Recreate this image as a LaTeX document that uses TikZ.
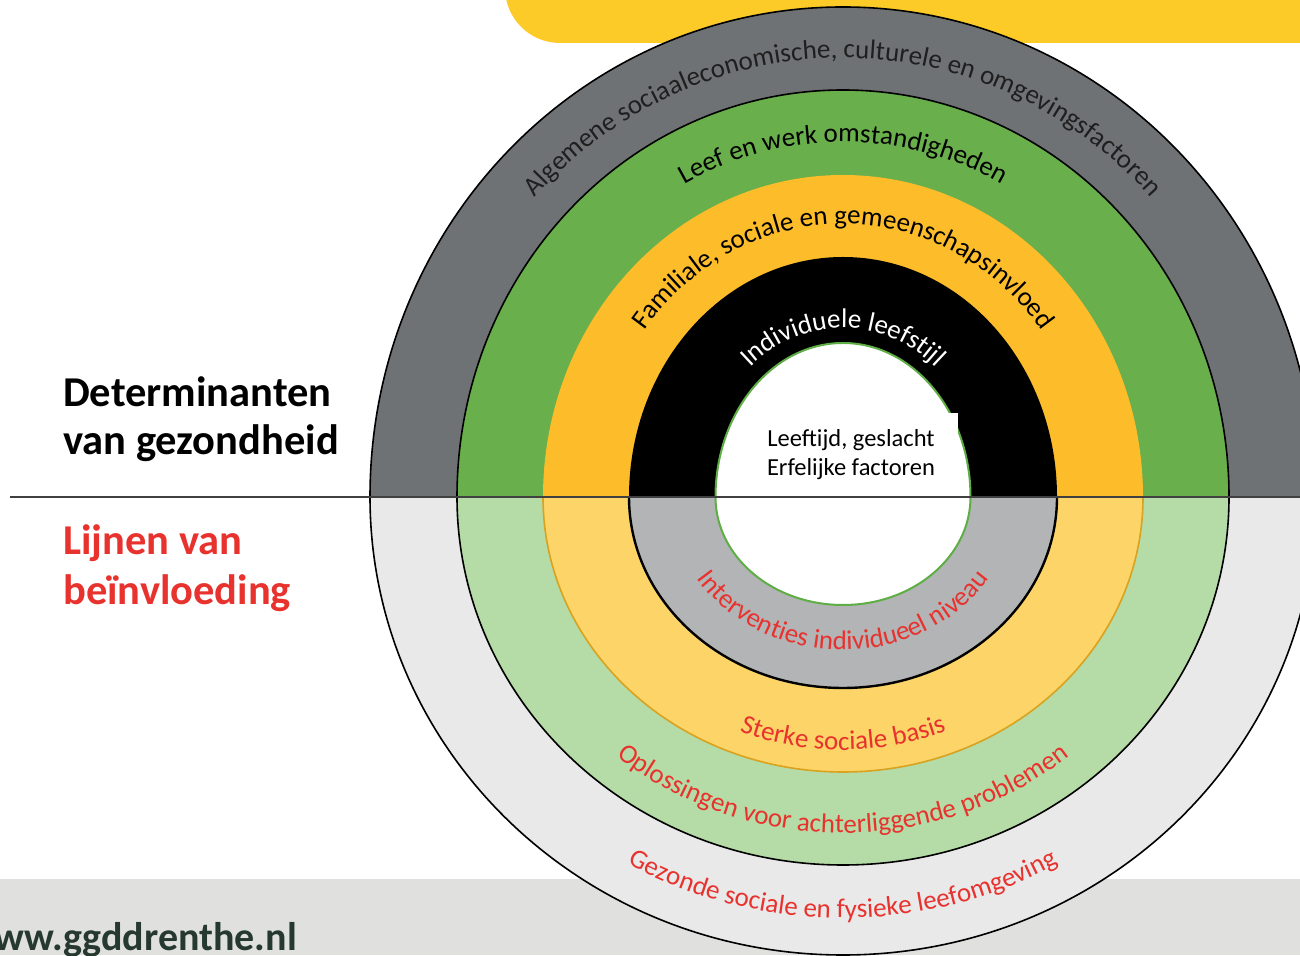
\documentclass[tikz,border=0pt]{standalone}
\usepackage{fontspec}
\setmainfont{Carlito}
\usetikzlibrary{decorations.text, positioning, calc}

\definecolor{ringgray}{HTML}{6F7274}
\definecolor{ringgreen}{HTML}{69AF4B}
\definecolor{ringorange}{HTML}{FDBD2A}
\definecolor{palegray}{HTML}{E9E9E9}
\definecolor{palegreen}{HTML}{B5DBA6}
\definecolor{paleyellow}{HTML}{FCD468}
\definecolor{midgray}{HTML}{B2B4B5}
\definecolor{rimgreen}{HTML}{5FAE45}
\definecolor{rimyellow}{HTML}{D9A21F}
\definecolor{linered}{HTML}{E8322E}
\definecolor{baryellow}{HTML}{FCCB28}
\definecolor{bandgray}{HTML}{E0E0DF}
\definecolor{urlgreen}{HTML}{26392F}

\newcommand{\arcfont}{\fontsize{27}{27}\selectfont}

\begin{document}
\begin{tikzpicture}[
    x=1pt, y=1pt,
    title/.style = {anchor=base west, inner sep=0pt, font=\fontsize{42.5}{42.5}\selectfont\bfseries},
    ringtext/.style = {decorate, decoration={text along path, text align=center}},
    rim/.style = {line width=1.6pt}
]
    % 1. Canvas, footer band and top bar
    \useasboundingbox (0,0) rectangle (1300,955);
    \clip (0,0) rectangle (1300,955);
    \fill[bandgray] (0,0) rectangle (1300,76);
    \fill[baryellow, rounded corners=55pt] (505,1100) rectangle (1400,912);

    \coordinate (c) at (843,458);

    % 2. Lower half: lijnen van beinvloeding
    \filldraw[palegray, draw=black, rim] (c) ++(-473pt,0) arc[start angle=180, end angle=360, x radius=473pt, y radius=458pt];
    \filldraw[palegreen, draw=black, rim] (c) ++(-386pt,0) arc[start angle=180, end angle=360, x radius=386pt, y radius=368pt];
    \filldraw[paleyellow, draw=rimyellow, rim] (c) ++(-300pt,0) arc[start angle=180, end angle=360, x radius=300pt, y radius=275pt];
    \filldraw[midgray, draw=black, line width=2.4pt] (c) ++(-214pt,0) arc[start angle=180, end angle=360, x radius=214pt, y radius=191pt];
    \filldraw[white, draw=rimgreen, line width=2pt] (c) ++(-127.5pt,0) arc[start angle=180, end angle=360, x radius=127.5pt, y radius=108pt];

    % 3. Upper half: determinanten
    \filldraw[ringgray, draw=black, rim] (c) ++(-473pt,0) arc[start angle=180, end angle=0, x radius=473pt, y radius=490pt];
    \filldraw[ringgreen, draw=black, rim] (c) ++(-386pt,0) arc[start angle=180, end angle=0, x radius=386pt, y radius=407pt];
    \fill[ringorange] (c) ++(-300pt,0) arc[start angle=180, end angle=0, x radius=300pt, y radius=322pt];
    \fill[black] (c) ++(-214pt,0) arc[start angle=180, end angle=0, x radius=214pt, y radius=240pt];
    \filldraw[white, draw=rimgreen, line width=2pt] (c) ++(-127.5pt,0) arc[start angle=180, end angle=0, x radius=127.5pt, y radius=154pt];

    % 4. Core text box
    \node[fill=white, minimum width=214pt, minimum height=83pt, align=center,
          font=\fontsize{24.5}{29}\selectfont, text=black] (core) at (851,500.5)
          {Leeftijd, geslacht\\Erfelijke factoren};

    % 5. Divider
    \coordinate (divL) at (10,458);
    \coordinate (divR) at (1300,458);
    \draw[black!75, line width=2pt] (divL) -- (divR);

    % 6. Ring labels, upper half
    \path[ringtext, decoration={text={|\arcfont\color{black!88}|Algemene sociaaleconomische, culturele en omgevingsfactoren}}]
        (c) ++(-421pt,0) arc[start angle=180, end angle=0, x radius=421pt, y radius=439pt];
    \path[ringtext, decoration={text={|\arcfont\color{black}|Leef en werk omstandigheden}}]
        (c) ++(-335pt,0) arc[start angle=180, end angle=0, x radius=335pt, y radius=355pt];
    \path[ringtext, decoration={text={|\arcfont\color{black}|Familiale, sociale en gemeenschapsinvloed}}]
        (c) ++(-251pt,0) arc[start angle=180, end angle=0, x radius=251pt, y radius=273pt];
    \path[ringtext, decoration={text={|\arcfont\color{white}|Individuele leefstijl}}]
        (c) ++(-145pt,0) arc[start angle=180, end angle=0, x radius=145pt, y radius=169pt];

    % 7. Ring labels, lower half
    \path[ringtext, decoration={text={|\arcfont\color{linered}|Interventies individueel niveau}}]
        (c) ++(-173pt,0) arc[start angle=180, end angle=360, x radius=173pt, y radius=153pt];
    \path[ringtext, decoration={text={|\arcfont\color{linered}|Sterke sociale basis}}]
        (c) ++(-275pt,0) arc[start angle=180, end angle=360, x radius=275pt, y radius=253pt];
    \path[ringtext, decoration={text={|\arcfont\color{linered}|Oplossingen voor achterliggende problemen}}]
        (c) ++(-356pt,0) arc[start angle=180, end angle=360, x radius=356pt, y radius=336pt];
    \path[ringtext, decoration={text={|\arcfont\color{linered}|Gezonde sociale en fysieke leefomgeving}}]
        (c) ++(-438pt,0) arc[start angle=180, end angle=360, x radius=438pt, y radius=421pt];

    % 8. Side titles and footer
    \node[title] (det1) at (63,548) {Determinanten};
    \node[title, below=48pt of det1.base west, anchor=base west] (det2) {van gezondheid};
    \node[title, text=linered] (lij1) at (63,400) {Lijnen van};
    \node[title, text=linered, below=50pt of lij1.base west, anchor=base west] (lij2) {beïnvloeding};
    \node[anchor=base east, inner sep=0pt, font=\fontsize{40}{40}\selectfont\bfseries, text=urlgreen] (url) at (297,5) {www.ggddrenthe.nl};
\end{tikzpicture}
\end{document}
